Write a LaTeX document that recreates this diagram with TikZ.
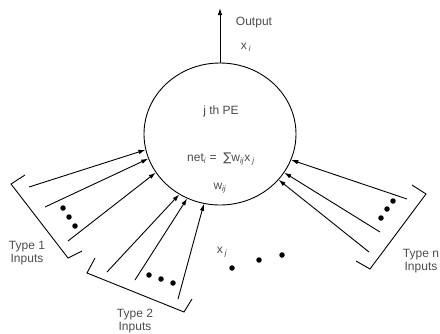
\documentclass[tikz,border=0pt]{standalone}
\usepackage{fontspec}
\setmainfont{Liberation Sans}
\newfontfamily\symfont{DejaVu Sans}
\usetikzlibrary{arrows.meta,shapes.geometric}
\begin{document}
\begin{tikzpicture}[x=1pt,y=-1pt,
  line width=0.9pt,
  inarrow/.style={-{Latex[length=7pt,width=4.5pt]}},
  bracketline/.style={line join=miter},
  dotmark/.style={circle,fill=black,inner sep=0pt,minimum size=5.5pt},
  lbl/.style={text=black!70,font=\fontsize{12}{13.5}\selectfont,inner sep=0pt,align=center}]
\useasboundingbox (0,0) rectangle (440,333);
\node[draw,ellipse,minimum width=152pt,minimum height=142pt,inner sep=0pt] (pe) at (220,134) {};

% output
\coordinate (out) at (220,8);
\draw[inarrow] (pe.north) -- (out);
\node[lbl] (outlbl) at (254,23) {Output};
\node[lbl] (xi) at (246,47) {x\,\textsubscript{\textit{i}}};

% texts inside
\node[lbl] (title) at (221,111) {j th PE};
\node[lbl] (net) at (221,159) {net\textsubscript{\textit{i}} = \ {\symfont ∑}w\textsubscript{\textit{ij}}x\,\textsubscript{\textit{j}}};
\node[lbl] (wij) at (220,188) {w\textsubscript{\textit{ij}}};
\node[lbl] (xj) at (222,252) {x\,\textsubscript{\textit{j}}};

% input starts
\coordinate (s1) at (29,187);
\coordinate (s2) at (45,207);
\coordinate (s3) at (68,241);
\coordinate (s4) at (107,272);
\coordinate (s5) at (135,280);
\coordinate (s6) at (178,299);
\coordinate (s7) at (407,199);
\coordinate (s8) at (380,232);
\coordinate (s9) at (369,252);

\draw[inarrow] (s1) -- (pe.192.8);
\draw[inarrow] (s2) -- (pe.199.1);
\draw[inarrow] (s3) -- (pe.211);
\draw[inarrow] (s4) -- (pe.236.7);
\draw[inarrow] (s5) -- (pe.243.8);
\draw[inarrow] (s6) -- (pe.257.9);
\draw[inarrow] (s7) -- (pe.340.1);
\draw[inarrow] (s8) -- (pe.329);
\draw[inarrow] (s9) -- (pe.322);

% brackets
\draw[bracketline] (25,175) -- (11,184) -- (68,258) -- (82,251);
\draw[bracketline] (95,258) -- (87,273) -- (184,312) -- (192,299);
\draw[bracketline] (412,185) -- (426,194) -- (370,269) -- (356,261);

% dots
\node[dotmark] (a1) at (63,208) {};
\node[dotmark] (a2) at (69,217) {};
\node[dotmark] (a3) at (75,226) {};
\node[dotmark] (b1) at (149,275) {};
\node[dotmark] (b2) at (161,279) {};
\node[dotmark] (b3) at (173,283) {};
\node[dotmark] (c1) at (393,201) {};
\node[dotmark] (c2) at (387,209) {};
\node[dotmark] (c3) at (381,218) {};
\node[dotmark] (m1) at (232,268) {};
\node[dotmark] (m2) at (259,260) {};
\node[dotmark] (m3) at (282,255) {};

% labels
\node[lbl] (t1) at (27,253) {Type 1\\Inputs};
\node[lbl] (t2) at (135,321) {Type 2\\Inputs};
\node[lbl] (tn) at (421,261) {Type n\\Inputs};
\end{tikzpicture}
\end{document}
